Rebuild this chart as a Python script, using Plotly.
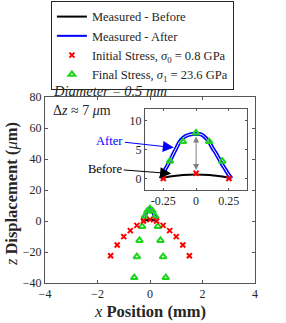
import plotly.graph_objects as go

# ---- data ----
after_x = [-0.27, -0.25, -0.225, -0.2, -0.175, -0.15, -0.125, -0.1, -0.075, -0.05, -0.025, 0.0,
           0.025, 0.05, 0.075, 0.1, 0.125, 0.15, 0.175, 0.2, 0.225, 0.25, 0.27]
after_y = [0.0, 1.0, 2.0, 3.0, 4.2, 5.3, 6.4, 7.0, 7.4, 7.6, 7.7, 7.7,
           7.7, 7.5, 7.0, 6.3, 5.3, 4.4, 3.4, 2.4, 1.5, 0.6, 0.0]
before_x = [-0.27, -0.2, -0.1, 0.0, 0.1, 0.2, 0.27]
before_y = [0.0, 0.35, 0.62, 0.7, 0.62, 0.35, 0.0]
init_x = [-1.5, -1.25, -1.0, -0.75, -0.5, -0.25, 0.0, 0.25, 0.5, 0.75, 1.0, 1.25, 1.5]
init_y = [-22.4, -15.5, -10.1, -6.2, -2.8, 0.0, 0.9, 0.0, -2.8, -6.2, -10.1, -15.5, -22.4]
final_x = [-0.6, -0.5, -0.4, -0.3, -0.2, -0.1, 0.0, 0.1, 0.2, 0.3, 0.4, 0.5, 0.6]
final_y = [-36.5, -23.0, -12.5, -3.5, 3.0, 6.4, 7.9, 6.4, 3.0, -3.5, -12.5, -23.0, -36.5]
gap_x = [0.0, 0.0]
gap_y = [1.2, 7.3]

main_xticks = [-4, -2, 0, 2, 4]
main_yticks = [-40, -20, 0, 20, 40, 60, 80]
inset_xticks = [-0.25, 0, 0.25]
inset_xticklabels = ["-0.25", "0", "0.25"]
inset_yticks = [0, 5, 10]

names = ["Measured - Before", "Measured - After",
         "Initial Stress, <i>σ</i><sub>0</sub> = 0.8 GPa",
         "Final Stress, <i>σ</i><sub>1</sub> = 23.6 GPa"]

FONT = "Liberation Serif"
RED = "#ff0000"
GREEN = "#1fd41f"
BLUE = "#0000ff"
AX = "#555555"

fig = go.Figure()

for xa, ya, leg in [("x", "y", True), ("x2", "y2", False)]:
    fig.add_trace(go.Scatter(x=before_x, y=before_y, mode="lines", line=dict(color="black", width=2, shape="spline"),
                             name=names[0], showlegend=leg, xaxis=xa, yaxis=ya, legendrank=1))
    fig.add_trace(go.Scatter(x=after_x, y=after_y, mode="lines", line=dict(color=BLUE, width=4, shape="spline"),
                             name=names[1], showlegend=False, legendgroup="after", xaxis=xa, yaxis=ya))
    fig.add_trace(go.Scatter(x=after_x, y=after_y, mode="lines", line=dict(color="white", width=1, shape="spline"),
                             showlegend=False, legendgroup="after", xaxis=xa, yaxis=ya, hoverinfo="skip"))
    if leg:
        # legend entry for the "after" curve (thin line sample as in the reference)
        fig.add_trace(go.Scatter(x=[None], y=[None], mode="lines", line=dict(color=BLUE, width=2),
                                 name=names[1], showlegend=True, legendgroup="after", legendrank=2,
                                 xaxis=xa, yaxis=ya))
    fig.add_trace(go.Scatter(x=final_x, y=final_y, mode="markers",
                             marker=dict(symbol="triangle-up-open", size=6, color=GREEN, line=dict(width=2, color=GREEN)),
                             name=names[3], showlegend=leg, xaxis=xa, yaxis=ya, legendrank=4))
    fig.add_trace(go.Scatter(x=init_x, y=init_y, mode="markers",
                             marker=dict(symbol="x-thin", size=5, color=RED, line=dict(width=2, color=RED)),
                             name=names[2], showlegend=leg, xaxis=xa, yaxis=ya, legendrank=3))

axis_common = dict(showline=True, linecolor=AX, linewidth=1, mirror="ticks", ticks="inside",
                   tickcolor=AX, showgrid=False, zeroline=False, automargin=False,
                   tickfont=dict(family=FONT, size=12, color="#262626"))

fig.update_layout(
    width=286, height=323,
    margin=dict(l=45, r=31, t=97, b=40, autoexpand=False),
    paper_bgcolor="white", plot_bgcolor="white",
    font=dict(family=FONT, size=12, color="#262626"),
    xaxis=dict(domain=[0, 1], range=[-4, 4], tickvals=main_xticks, ticklen=3, anchor="y", **axis_common),
    yaxis=dict(domain=[0, 1], range=[-40, 80], tickvals=main_yticks, ticklen=3, anchor="x", **axis_common),
    xaxis2=dict(domain=[0.476, 0.963], range=[-0.39, 0.39], tickvals=inset_xticks, ticktext=inset_xticklabels,
                ticklen=2, anchor="y2", **axis_common),
    yaxis2=dict(domain=[0.5, 0.934], range=[-2, 12], tickvals=inset_yticks, ticklen=2, anchor="x2", **axis_common),
    legend=dict(xref="container", yref="container", x=0.178, y=0.997, xanchor="left", yanchor="top",
                bgcolor="white", bordercolor="#262626", borderwidth=1,
                font=dict(family=FONT, size=12.5, color="#262626"), tracegroupgap=0),
    showlegend=True,
)

ann = []
ann.append(dict(text="<i>x</i> <b>Position (mm)</b>", xref="paper", yref="paper", x=0.5, y=-0.152,
                xanchor="center", yanchor="middle", showarrow=False, font=dict(size=16.5)))
ann.append(dict(text="<i>z</i> <b>Displacement (</b><i>μ</i><b>m)</b>", xref="paper", yref="paper", x=-0.16, y=0.48,
                xanchor="center", yanchor="middle", textangle=-90, showarrow=False, font=dict(size=16.5)))
ann.append(dict(text="<i>Diameter</i> = <i>0.5 mm</i>", xref="paper", yref="paper", x=0.03, y=1.034,
                xanchor="left", yanchor="middle", showarrow=False, font=dict(size=14.5)))
ann.append(dict(text="Δ<i>z</i> ≈ 7 <i>μ</i>m", xref="paper", yref="paper", x=0.03, y=0.925,
                xanchor="left", yanchor="middle", showarrow=False, font=dict(size=14)))
ann.append(dict(text="After", xref="x2", yref="y2", x=-0.17, y=5.35, ax=-64, ay=-7,
                showarrow=True, arrowhead=2, arrowsize=2.2, arrowwidth=1, arrowcolor=BLUE,
                font=dict(size=12.5, color=BLUE)))
ann.append(dict(text="Before", xref="x2", yref="y2", x=-0.19, y=0.85, ax=-66, ay=-5,
                showarrow=True, arrowhead=2, arrowsize=2.2, arrowwidth=1, arrowcolor="black",
                font=dict(size=12.5, color="black")))
ann.append(dict(text="", xref="x2", yref="y2", x=gap_x[1], y=gap_y[1], axref="x2", ayref="y2",
                ax=gap_x[0], ay=gap_y[0], showarrow=True, arrowhead=2, arrowside="end+start",
                arrowsize=1.2, arrowwidth=1, arrowcolor="#808080"))
fig.update_layout(annotations=ann)

fig.write_html("out.html", config={"displayModeBar": False},
               post_script="document.body.style.margin='0';document.body.style.padding='0';")
